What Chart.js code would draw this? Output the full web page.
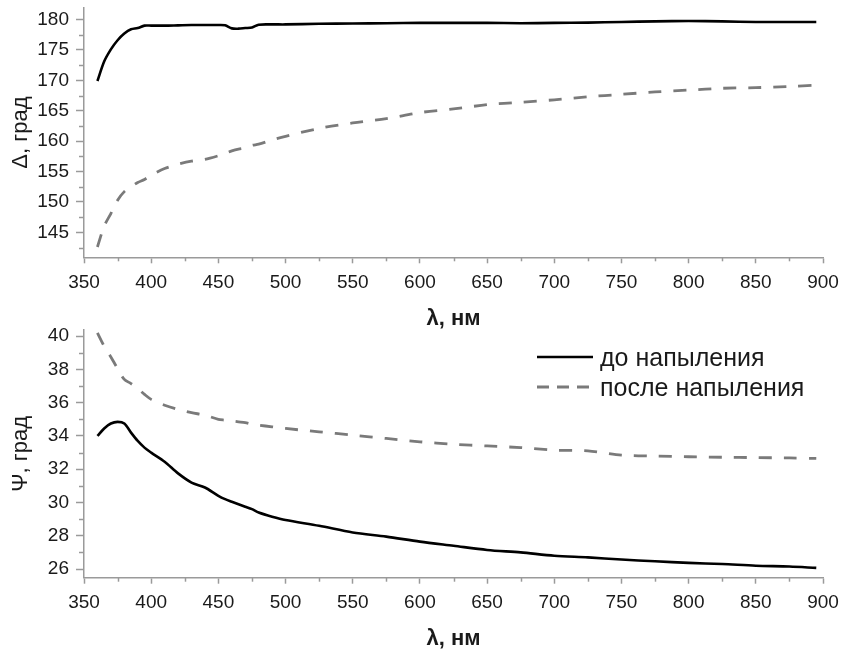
<!DOCTYPE html>
<html><head><meta charset="utf-8">
<script src="https://cdn.jsdelivr.net/npm/chart.js@4.4.1/dist/chart.umd.min.js"></script>
<style>
html,body{margin:0;padding:0;background:#fff;}
body{width:841px;height:655px;position:relative;overflow:hidden;}
#c1{position:absolute;left:0;top:0;}
#c2{position:absolute;left:0;top:300px;}
</style></head><body>
<canvas id="c1" width="841" height="335"></canvas>
<canvas id="c2" width="841" height="355"></canvas>
<script>
// ---- data ----
const wavelengths = [360,365,370,375,380,385,390,395,400,410,420,430,440,450,455,460,465,470,475,480,490,500,525,550,575,600,625,650,675,700,725,750,775,800,825,850,875,895];
const deltaBefore = [169.9,173.1,175.1,176.6,177.7,178.4,178.6,179.0,179.0,179.0,179.05,179.1,179.1,179.1,179.05,178.55,178.5,178.6,178.7,179.15,179.2,179.2,179.3,179.35,179.4,179.45,179.45,179.45,179.4,179.45,179.5,179.6,179.7,179.75,179.7,179.6,179.6,179.6];
const deltaAfter = [142.6,146.0,148.1,150.3,151.7,152.5,153.2,153.7,154.4,155.5,156.2,156.7,157.0,157.6,158.0,158.4,158.7,158.9,159.3,159.5,160.2,160.8,162.1,163.0,163.7,164.7,165.3,166.0,166.4,166.8,167.3,167.7,168.1,168.4,168.7,168.8,169.0,169.2];
const psiBefore = [34.0,34.45,34.75,34.85,34.75,34.2,33.7,33.3,33.0,32.45,31.75,31.2,30.9,30.4,30.2,30.05,29.9,29.75,29.6,29.4,29.15,28.95,28.6,28.2,27.95,27.65,27.4,27.15,27.0,26.8,26.7,26.57,26.47,26.37,26.3,26.2,26.15,26.07];
const psiAfter = [40.2,39.4,38.75,38.05,37.4,37.15,36.85,36.5,36.2,35.85,35.6,35.4,35.25,35.0,34.95,34.9,34.85,34.8,34.7,34.65,34.55,34.45,34.25,34.05,33.85,33.65,33.5,33.4,33.3,33.15,33.1,32.85,32.79,32.75,32.72,32.7,32.68,32.65];
const seriesLabels = ['до напыления','после напыления'];
const xTickValues = [350,400,450,500,550,600,650,700,750,800,850,900];
const deltaTickValues = [145,150,155,160,165,170,175,180];
const psiTickValues = [26,28,30,32,34,36,38,40];
const xTitle = 'λ, нм';
const deltaTitle = 'Δ, град';
const psiTitle = 'Ψ, град';

// ---- styling ----
const FONT = "'Liberation Sans', Arial, sans-serif";
const AXIS = '#9a9a9a';
const TXT = '#1a1a1a';

function pts(ys){ return wavelengths.map((x,i)=>({x:x, y:ys[i]})); }
function mids(arr){ const r=[]; for(let i=0;i<arr.length-1;i++) r.push((arr[i]+arr[i+1])/2); return r; }

const minorTicks = {
  id:'minorTicks',
  afterDraw(chart, args, o){
    const ctx = chart.ctx, xs = chart.scales.x, ys = chart.scales.y;
    ctx.save(); ctx.strokeStyle = AXIS; ctx.lineWidth = 1.5;
    (o.x||[]).forEach(v=>{ const p = Math.round(xs.getPixelForValue(v))+0.5; ctx.beginPath(); ctx.moveTo(p, xs.top); ctx.lineTo(p, xs.top+4); ctx.stroke(); });
    (o.y||[]).forEach(v=>{ const p = Math.round(ys.getPixelForValue(v))+0.5; ctx.beginPath(); ctx.moveTo(ys.right, p); ctx.lineTo(ys.right-5, p); ctx.stroke(); });
    ctx.restore();
  }
};

const insetLegend = {
  id:'insetLegend',
  afterDraw(chart, args, o){
    if(!o || !o.show) return;
    const ctx = chart.ctx;
    chart.data.datasets.forEach((ds,i)=>{
      const y = o.y + i*o.rowH;
      ctx.save();
      ctx.strokeStyle = ds.borderColor; ctx.lineWidth = ds.borderWidth;
      ctx.setLineDash(ds.borderDash ? o.dash : []);
      ctx.beginPath(); ctx.moveTo(o.x, y); ctx.lineTo(o.x+o.len, y); ctx.stroke();
      ctx.setLineDash([]);
      ctx.fillStyle = TXT; ctx.font = o.font; ctx.textBaseline = 'middle'; ctx.textAlign = 'left';
      ctx.fillText(ds.label, o.x+o.len+o.gap, y+o.textDy);
      ctx.restore();
    });
  }
};

function makeChart(id, before, after, yMin, yMax, yTicks, yMinorVals, yTitle, padTop, xHeight, legendOpts){
  return new Chart(document.getElementById(id), {
    type:'line',
    data:{ datasets:[
      {label:seriesLabels[0], data:pts(before), borderColor:'#000', borderWidth:2.6, pointRadius:0, tension:0.3, fill:false},
      {label:seriesLabels[1], data:pts(after), borderColor:'#7a7a7a', borderWidth:2.8, borderDash:[13,12], pointRadius:0, tension:0.3, fill:false}
    ]},
    options:{
      responsive:false, animation:false, events:[],
      layout:{ padding:{top:padTop, right:18, left:0, bottom:0} },
      plugins:{
        legend:{display:false}, tooltip:{enabled:false},
        minorTicks:{ x: mids(xTickValues), y: yMinorVals },
        insetLegend: legendOpts || {show:false}
      },
      scales:{
        x:{
          type:'linear', position:'bottom', min:350, max:900,
          afterBuildTicks: s => { s.ticks = xTickValues.map(v=>({value:v})); },
          afterFit: s => { s.height = xHeight; s.paddingLeft = 0; s.paddingRight = 0; },
          ticks:{ font:{family:FONT, size:19}, color:TXT, padding:8, maxRotation:0, autoSkip:false, callback:v=>String(v) },
          grid:{ drawOnChartArea:false, drawTicks:true, tickLength:6, tickColor:AXIS, tickWidth:1.5 },
          border:{ display:true, color:AXIS, width:1.5 },
          title:{ display:true, text:xTitle, font:{family:FONT, size:22, weight:'bold'}, color:TXT, padding:{top:0, bottom:3} }
        },
        y:{
          type:'linear', position:'left', min:yMin, max:yMax,
          afterBuildTicks: s => { s.ticks = yTicks.map(v=>({value:v})); },
          afterFit: s => { s.width = 84; s.paddingTop = 0; s.paddingBottom = 0; },
          ticks:{ font:{family:FONT, size:19}, color:TXT, padding:7, autoSkip:false, callback:v=>String(v) },
          grid:{ drawOnChartArea:false, drawTicks:true, tickLength:8, tickColor:AXIS, tickWidth:1.5 },
          border:{ display:true, color:AXIS, width:1.5 },
          title:{ display:true, text:yTitle, font:{family:FONT, size:22}, color:TXT, padding:{top:8, bottom:0} }
        }
      }
    },
    plugins:[minorTicks, insetLegend]
  });
}

makeChart('c1', deltaBefore, deltaAfter, 140.9, 181.9, deltaTickValues, [142.5].concat(mids(deltaTickValues)), deltaTitle, 8, 77.7, null);
makeChart('c2', psiBefore, psiAfter, 25.48, 40.37, psiTickValues, mids(psiTickValues), psiTitle, 30, 77.3,
  {show:true, x:537, y:57, rowH:30, len:56, gap:7, textDy:2, font:"25px 'Liberation Sans', Arial, sans-serif", dash:[12,8]});
</script>
</body></html>
